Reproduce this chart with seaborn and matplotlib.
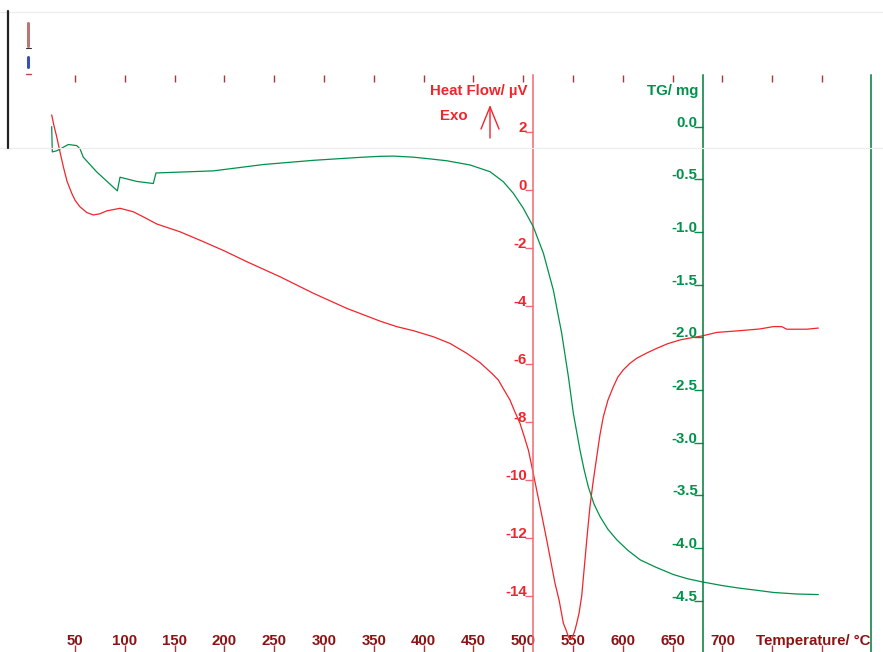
import numpy as np
import pandas as pd
import matplotlib
matplotlib.use("Agg")
import matplotlib.pyplot as plt
import seaborn as sns
from matplotlib.lines import Line2D
from matplotlib.patches import FancyArrowPatch
from matplotlib.ticker import FixedLocator, FixedFormatter

sns.set_theme(style="white")
plt.rcParams['font.family'] = ['Liberation Sans', 'DejaVu Sans']
plt.rcParams['axes.unicode_minus'] = False

# DSC heat flow curve (temperature in °C, heat flow in µV)
hf_temp = [26.6, 29, 31.6, 35, 38.3, 42, 46.7, 50, 55, 62, 68.4, 75, 81.8, 95.2,
           108.5, 120, 132, 155.4, 178.8, 200, 222.4, 255.8, 289.3, 322.8, 356.2,
           372.9, 389.7, 409.8, 426.5, 443.3, 456.6, 468.4, 475, 480, 486.7, 491,
           496.8, 501, 505.2, 510.8, 516.9, 523.6, 531.9, 536, 540.3, 543, 545.5,
           547.5, 549.5, 552, 553.7, 556, 558.7, 561.6, 564.5, 567, 570, 573.8, 577,
           580.4, 585, 590.5, 595, 600.5, 607, 614, 624, 634, 645, 657.4, 668, 679.8,
           694.3, 717.7, 737.7, 751.1, 759.5, 764.5, 784.6, 796.3]
hf_value = [2.59, 2.2, 1.84, 1.3, 0.80, 0.3, -0.11, -0.35, -0.58, -0.78, -0.86, -0.82,
            -0.72, -0.63, -0.75, -0.95, -1.17, -1.44, -1.78, -2.10, -2.47, -2.99, -3.56,
            -4.08, -4.52, -4.71, -4.85, -5.06, -5.29, -5.63, -5.95, -6.32, -6.55, -6.85,
            -7.24, -7.6, -8.05, -8.5, -8.97, -9.89, -10.92, -12.07, -13.56, -14.14,
            -14.94, -15.17, -15.42, -15.5, -15.42, -15.17, -14.94, -14.6, -14.0, -12.9,
            -11.8, -10.92, -10.1, -9.2, -8.45, -7.82, -7.25, -6.78, -6.45, -6.20, -5.98,
            -5.80, -5.62, -5.46, -5.30, -5.17, -5.10, -5.03, -4.91, -4.85, -4.79, -4.71,
            -4.71, -4.80, -4.80, -4.76]

# TG curve (temperature in °C, mass change in mg)
tg_temp = [26.6, 27.2, 31.6, 43.3, 51.7, 55, 58.3, 71.8, 92.5, 95.2, 111.9, 128.6,
           131.3, 160, 188.9, 214, 239, 264, 289.3, 314, 339.5, 356.2, 370, 389.7,
           405, 423.2, 446.6, 466.7, 480, 490.1, 500.1, 510.1, 520.2, 530.2, 538.6,
           545.3, 550.3, 557, 561, 565.4, 571, 577.1, 585, 593.9, 605, 617.3, 633,
           650.7, 665, 679.8, 700, 717.7, 735, 751.1, 775, 796.3]
tg_value = [0.0, -0.24, -0.23, -0.17, -0.18, -0.21, -0.29, -0.43, -0.61, -0.48, -0.52,
            -0.54, -0.44, -0.43, -0.42, -0.39, -0.36, -0.34, -0.32, -0.305, -0.29,
            -0.282, -0.28, -0.29, -0.305, -0.324, -0.364, -0.428, -0.523, -0.633,
            -0.775, -0.95, -1.20, -1.55, -1.96, -2.37, -2.72, -3.07, -3.25, -3.42,
            -3.58, -3.70, -3.82, -3.92, -4.02, -4.11, -4.18, -4.25, -4.29, -4.32,
            -4.355, -4.38, -4.40, -4.42, -4.435, -4.44]

temp_ticks = list(range(50, 801, 50))
temp_labels = [str(t) if t <= 700 else "" for t in temp_ticks]
hf_ticks = [2, 0, -2, -4, -6, -8, -10, -12, -14]
hf_labels = ["2", "0", "-2", "-4", "-6", "-8", "-10", "-12", "-14"]
tg_ticks = [0.0, -0.5, -1.0, -1.5, -2.0, -2.5, -3.0, -3.5, -4.0, -4.5]
tg_labels = ["0.0", "-0.5", "-1.0", "-1.5", "-2.0", "-2.5", "-3.0", "-3.5", "-4.0", "-4.5"]

red = "#f2242c"
red_axis = "#f06a70"
green = "#00914a"
green_axis = "#007a3a"
dark_red = "#8e1214"
fs = 10.8

W, H = 883, 652
top_px = 75
fig = plt.figure(figsize=(W / 100, H / 100), dpi=100)
ax = fig.add_axes([0, 0, 1, (H - top_px) / H])
ax2 = ax.twinx()

hf = pd.DataFrame({"T": hf_temp, "HF": hf_value})
tg = pd.DataFrame({"T": tg_temp, "TG": tg_value})
sns.lineplot(data=hf, x="T", y="HF", ax=ax, color=red, lw=0.9, sort=False)
sns.lineplot(data=tg, x="T", y="TG", ax=ax2, color=green, lw=0.9, sort=False)

ax.set_xlim(-25.3, 861.2)
ax.set_ylim(-15.93, 3.966)
ax2.set_ylim(-4.985, 0.4896)
for a in (ax, ax2):
    a.set_xlabel("")
    a.set_ylabel("")
    a.grid(False)

# temperature axis: ticks on top and bottom, labels inside at the bottom
ax.xaxis.set_major_locator(FixedLocator(temp_ticks))
ax.xaxis.set_major_formatter(FixedFormatter(temp_labels))
ax.tick_params(axis="x", which="major", direction="in", length=5, width=1,
               color="#a8383a", top=True, bottom=True, labeltop=False,
               labelbottom=True, pad=-5, labelsize=fs, labelcolor=dark_red)
for lab in ax.get_xticklabels():
    lab.set_fontweight("bold")
    lab.set_va("baseline")

# heat flow axis
for side in ("top", "bottom", "right"):
    ax.spines[side].set_visible(False)
ax.spines["left"].set_position(("data", 510))
ax.spines["left"].set_color(red_axis)
ax.spines["left"].set_linewidth(1.1)
ax.yaxis.set_major_locator(FixedLocator(hf_ticks))
ax.yaxis.set_major_formatter(FixedFormatter(hf_labels))
ax.tick_params(axis="y", direction="out", length=5.5, width=1, color=red_axis,
               left=True, right=False, pad=-1, labelsize=fs, labelcolor=red)
for lab in ax.get_yticklabels():
    lab.set_fontweight("bold")
    lab.set_va("baseline")

# TG axis
ax2.yaxis.tick_left()
for side in ("top", "bottom"):
    ax2.spines[side].set_visible(False)
ax2.spines["left"].set_position(("data", 680))
ax2.spines["left"].set_color(green_axis)
ax2.spines["left"].set_linewidth(1.1)
ax2.spines["right"].set_position(("data", 849.2))
ax2.spines["right"].set_color(green_axis)
ax2.spines["right"].set_linewidth(1.1)
ax2.yaxis.set_major_locator(FixedLocator(tg_ticks))
ax2.yaxis.set_major_formatter(FixedFormatter(tg_labels))
ax2.tick_params(axis="y", direction="out", length=6.5, width=1, color=green,
                left=True, right=False, labelleft=True, labelright=False,
                pad=-3, labelsize=fs, labelcolor=green)
for lab in ax2.get_yticklabels():
    lab.set_fontweight("bold")
    lab.set_va("baseline")


def fx(px):
    return px / W


def fy(py):
    return 1 - py / H


# axis titles
fig.text(fx(528), fy(95.5), "Heat Flow/ µV", color=red, fontsize=fs,
         fontweight="bold", ha="right", va="baseline")
fig.text(fx(440), fy(119.5), "Exo", color=red, fontsize=fs,
         fontweight="bold", ha="left", va="baseline")
fig.text(fx(698), fy(95.5), "TG/ mg", color=green, fontsize=fs,
         fontweight="bold", ha="right", va="baseline")
fig.text(fx(870), fy(645), "Temperature/ °C", color=dark_red, fontsize=fs,
         fontweight="bold", ha="right", va="baseline")

arrow = FancyArrowPatch((fx(490), fy(138)), (fx(490), fy(105)),
                        transform=fig.transFigure, color=red, lw=1,
                        arrowstyle="->,head_length=1.6,head_width=0.65",
                        mutation_scale=10, shrinkA=0, shrinkB=0)
fig.add_artist(arrow)

# legend frame remnants in the upper left
fig.add_artist(Line2D([0, 1], [fy(12), fy(12)], transform=fig.transFigure,
                      color="#ececec", lw=0.8))
fig.add_artist(Line2D([0, 1], [fy(148), fy(148)], transform=fig.transFigure,
                      color="#ececec", lw=0.8))
fig.add_artist(Line2D([fx(8), fx(8)], [fy(11), fy(148)], transform=fig.transFigure,
                      color="#222222", lw=1.6))
fig.add_artist(Line2D([fx(28), fx(28)], [fy(23), fy(46)], transform=fig.transFigure,
                      color="#b47878", lw=2.2))
fig.add_artist(Line2D([fx(26), fx(31)], [fy(47.5), fy(47.5)], transform=fig.transFigure,
                      color="#333333", lw=0.8))
fig.add_artist(Line2D([fx(28), fx(28)], [fy(57), fy(67)], transform=fig.transFigure,
                      color="#3552b0", lw=2.2))
fig.add_artist(Line2D([fx(26), fx(31)], [fy(74), fy(74)], transform=fig.transFigure,
                      color="#b84848", lw=1.0))

fig.savefig("out.png", dpi=100, facecolor="white")
